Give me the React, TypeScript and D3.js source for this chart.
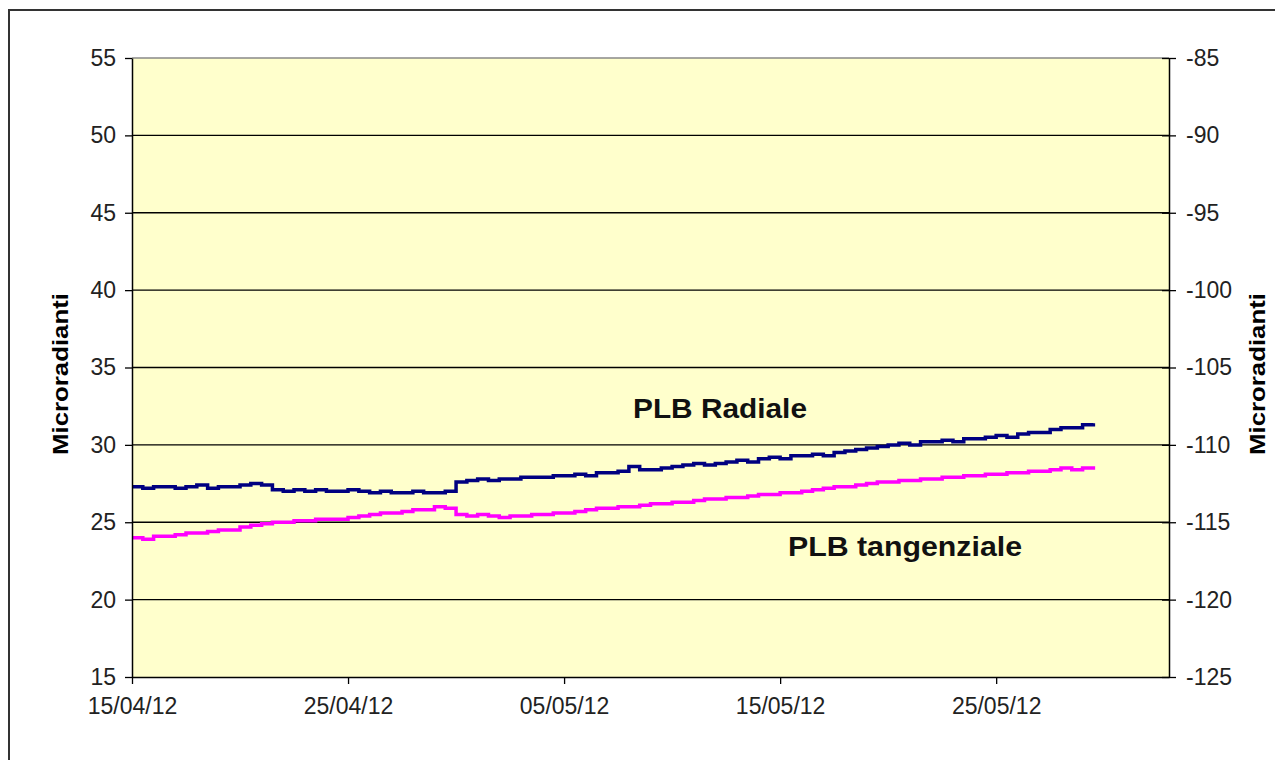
import React, { useEffect, useRef } from "react";
import * as d3 from "d3";

// readings every 12 hours starting 15/04/12 00:00
const startDate = new Date(2012, 3, 15);
const stepHours = 12;

const radialeValues = [
  27.3, 27.2, 27.3, 27.3, 27.2, 27.3, 27.4, 27.2, 27.3, 27.3,
  27.4, 27.5, 27.4, 27.1, 27.0, 27.1, 27.0, 27.1, 27.0, 27.0,
  27.1, 27.0, 26.9, 27.0, 26.9, 26.9, 27.0, 26.9, 26.9, 27.0,
  27.6, 27.7, 27.8, 27.7, 27.8, 27.8, 27.9, 27.9, 27.9, 28.0,
  28.0, 28.1, 28.0, 28.2, 28.2, 28.3, 28.6, 28.4, 28.4, 28.5,
  28.6, 28.7, 28.8, 28.7, 28.8, 28.9, 29.0, 28.9, 29.1, 29.2,
  29.1, 29.3, 29.3, 29.4, 29.3, 29.5, 29.6, 29.7, 29.8, 29.9,
  30.0, 30.1, 30.0, 30.2, 30.2, 30.3, 30.2, 30.4, 30.4, 30.5,
  30.6, 30.5, 30.7, 30.8, 30.8, 31.0, 31.1, 31.1, 31.3, 31.4,
];

const tangenzialeValues = [
  24.0, 23.9, 24.1, 24.1, 24.2, 24.3, 24.3, 24.4, 24.5, 24.5,
  24.7, 24.8, 24.9, 25.0, 25.0, 25.1, 25.1, 25.2, 25.2, 25.2,
  25.3, 25.4, 25.5, 25.6, 25.6, 25.7, 25.8, 25.8, 26.0, 25.9,
  25.5, 25.4, 25.5, 25.4, 25.3, 25.4, 25.4, 25.5, 25.5, 25.6,
  25.6, 25.7, 25.8, 25.9, 25.9, 26.0, 26.0, 26.1, 26.2, 26.2,
  26.3, 26.3, 26.4, 26.5, 26.5, 26.6, 26.6, 26.7, 26.8, 26.8,
  26.9, 26.9, 27.0, 27.1, 27.2, 27.3, 27.3, 27.4, 27.5, 27.6,
  27.6, 27.7, 27.7, 27.8, 27.8, 27.9, 27.9, 28.0, 28.0, 28.1,
  28.1, 28.2, 28.2, 28.3, 28.3, 28.4, 28.5, 28.4, 28.5, 28.4,
];

const leftTicks = [15, 20, 25, 30, 35, 40, 45, 50, 55];
const rightTicks = [-125, -120, -115, -110, -105, -100, -95, -90, -85];
const dateTicks = ["15/04/12", "25/04/12", "05/05/12", "15/05/12", "25/05/12"];
const axisTitle = "Microradianti";
const seriesLabels = ["PLB Radiale", "PLB tangenziale"];

const parseDate = d3.timeParse("%d/%m/%y");

export default function App() {
  const ref = useRef<SVGSVGElement>(null);

  useEffect(() => {
    const svg = d3.select(ref.current);
    svg.selectAll("*").remove();

    const left = 132, right = 1169, top = 58, bottom = 677;
    const font = "Arial, 'Liberation Sans', sans-serif";

    const x = d3.scaleTime()
      .domain([startDate, d3.timeDay.offset(startDate, 48)])
      .range([left, right]);
    const y = d3.scaleLinear().domain([15, 55]).range([bottom, top]);
    const y2 = d3.scaleLinear().domain([-125, -85]).range([bottom, top]);

    // outer frame
    svg.append("rect").attr("x", 9).attr("y", 10).attr("width", 1275).attr("height", 770)
      .attr("fill", "#fff").attr("stroke", "#333").attr("stroke-width", 2);

    svg.append("rect").attr("x", left).attr("y", top)
      .attr("width", right - left).attr("height", bottom - top)
      .attr("fill", "#FFFFCC");

    // grid
    svg.append("g").selectAll("line").data(leftTicks.filter(t => t > 15)).join("line")
      .attr("x1", left).attr("x2", right)
      .attr("y1", d => y(d)).attr("y2", d => y(d))
      .attr("stroke", d => d === 55 ? "#888" : "#000").attr("stroke-width", 1.3);

    const toPoints = (vals: number[]) =>
      vals.map((v, i) => ({ t: d3.timeHour.offset(startDate, i * stepHours), v }));

    const line = d3.line<{ t: Date; v: number }>()
      .x(d => x(d.t)).y(d => y(d.v)).curve(d3.curveStepAfter);

    svg.append("path").datum(toPoints(tangenzialeValues)).attr("d", line)
      .attr("fill", "none").attr("stroke", "#FF00FF").attr("stroke-width", 3.5);
    svg.append("path").datum(toPoints(radialeValues)).attr("d", line)
      .attr("fill", "none").attr("stroke", "#000080").attr("stroke-width", 3.5);

    // axes
    const axisStyle = (g: any) => {
      g.select(".domain").attr("stroke", "#000").attr("stroke-width", 1.5);
      g.selectAll(".tick line").attr("stroke", "#000").attr("stroke-width", 1.3);
      g.selectAll("text").attr("font-family", font).attr("font-size", 23).attr("fill", "#222");
    };

    svg.append("g").attr("transform", `translate(${left},0)`)
      .call(d3.axisLeft(y).tickValues(leftTicks).tickSize(7).tickSizeOuter(0).tickPadding(9))
      .call(axisStyle);

    // plain hyphen for negatives, as in the original
    svg.append("g").attr("transform", `translate(${right},0)`)
      .call(d3.axisRight(y2).tickValues(rightTicks).tickSize(7).tickSizeOuter(0).tickPadding(10)
        .tickFormat(d => String(d)))
      .call(axisStyle)
      .call(g => g.selectAll(".tick line").attr("x1", -7));

    svg.append("g").attr("transform", `translate(0,${bottom})`)
      .call(d3.axisBottom(x).tickValues(dateTicks.map(s => parseDate(s) as Date))
        .tickFormat(d3.timeFormat("%d/%m/%y") as any).tickSize(7).tickSizeOuter(0).tickPadding(14))
      .call(axisStyle);

    // axis titles
    svg.append("text").attr("transform", `translate(68,374) rotate(-90)`)
      .attr("text-anchor", "middle").attr("font-family", font).attr("font-weight", "bold")
      .attr("font-size", 22).attr("textLength", 162).attr("lengthAdjust", "spacingAndGlyphs")
      .attr("fill", "#000").text(axisTitle);
    svg.append("text").attr("transform", `translate(1265,374) rotate(-90)`)
      .attr("text-anchor", "middle").attr("font-family", font).attr("font-weight", "bold")
      .attr("font-size", 22).attr("textLength", 162).attr("lengthAdjust", "spacingAndGlyphs")
      .attr("fill", "#000").text(axisTitle);

    // series labels
    svg.append("text").attr("x", 633).attr("y", 418)
      .attr("font-family", font).attr("font-weight", "bold").attr("font-size", 28)
      .attr("textLength", 174).attr("lengthAdjust", "spacingAndGlyphs")
      .attr("fill", "#111").text(seriesLabels[0]);
    svg.append("text").attr("x", 788).attr("y", 556)
      .attr("font-family", font).attr("font-weight", "bold").attr("font-size", 28)
      .attr("textLength", 234).attr("lengthAdjust", "spacingAndGlyphs")
      .attr("fill", "#111").text(seriesLabels[1]);
  }, []);

  return (
    <svg ref={ref} width={1275} height={760}
      style={{ position: "absolute", left: 0, top: 0, display: "block" }} />
  );
}
